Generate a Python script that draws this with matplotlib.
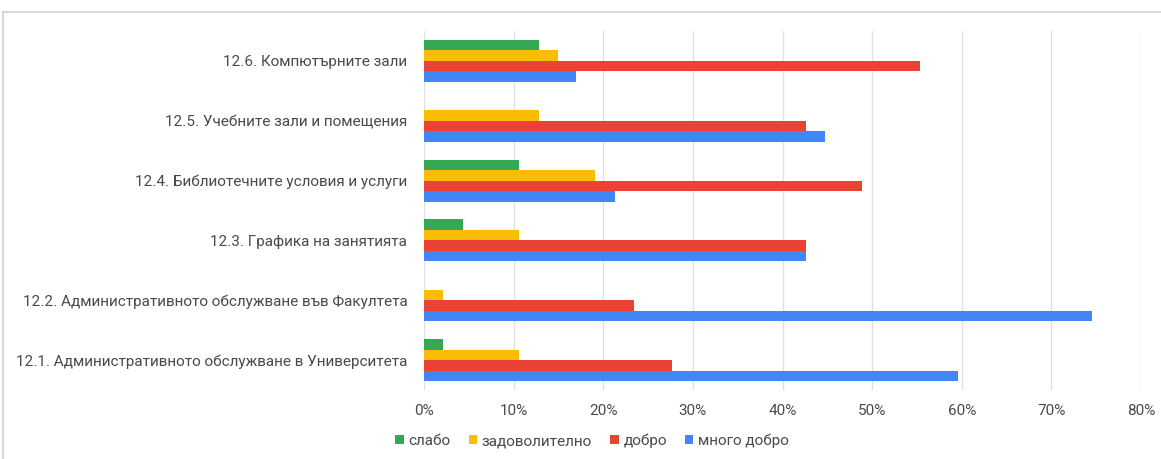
#!/usr/bin/env python3
"""
Horizontal grouped bar chart: ratings of university services
"""
import matplotlib.pyplot as plt
import numpy as np
from matplotlib.lines import Line2D
from matplotlib.ticker import FuncFormatter, MultipleLocator

plt.rcParams["font.family"] = ["Roboto", "DejaVu Sans"]

# Data (top to bottom, as shown)
categories = [
    "12.6. Компютърните зали",
    "12.5. Учебните зали и помещения",
    "12.4. Библиотечните условия и услуги",
    "12.3. Графика на занятията",
    "12.2. Административното обслужване във Факултета",
    "12.1. Административното обслужване в Университета",
]
series_names = ["слабо", "задоволително", "добро", "много добро"]
slabo = [12.8, 0.0, 10.6, 4.3, 0.0, 2.1]
zadovolitelno = [14.9, 12.8, 19.1, 10.6, 2.1, 10.6]
dobro = [55.3, 42.6, 48.9, 42.6, 23.4, 27.7]
mnogo_dobro = [17.0, 44.7, 21.3, 42.6, 74.5, 59.6]

# Style
COLORS = ["#34a853", "#fbbc04", "#ea4335", "#4285f4"]
TEXT_COLOR = "#4a4a4a"
GRID_COLOR = "#e0e0e0"
BAR_HEIGHT = 0.175

fig = plt.figure(figsize=(11.61, 4.59), dpi=100)
ax = fig.add_axes([424 / 1161, 1 - 390 / 459, (1141 - 424) / 1161, (390 - 31) / 459])

y = np.arange(len(categories))
all_series = [slabo, zadovolitelno, dobro, mnogo_dobro]
for j, (name, values, color) in enumerate(zip(series_names, all_series, COLORS)):
    offset = (j - 1.5) * BAR_HEIGHT
    ax.barh(y + offset, values, height=BAR_HEIGHT, color=color, label=name, zorder=3)

ax.set_ylim(len(categories) - 0.5, -0.5)
ax.set_xlim(0, 80)
ax.set_yticks(y)
ax.set_yticklabels(categories)
ax.xaxis.set_major_locator(MultipleLocator(10))
ax.xaxis.set_major_formatter(FuncFormatter(lambda v, _: f"{v:.0f}%"))
ax.grid(axis="x", color=GRID_COLOR, linewidth=1, zorder=0)
for spine in ax.spines.values():
    spine.set_visible(False)
ax.tick_params(axis="both", length=0, colors=TEXT_COLOR, labelsize=11)
ax.tick_params(axis="y", pad=12)
ax.tick_params(axis="x", pad=10)

ax.legend(
    loc="center",
    bbox_to_anchor=(592 / 1161, 1 - 441 / 459),
    bbox_transform=fig.transFigure,
    ncol=4,
    frameon=False,
    handlelength=0.55,
    handleheight=0.55,
    handletextpad=0.3,
    columnspacing=1.2,
    fontsize=11,
    labelcolor=TEXT_COLOR,
)

# light frame at top and left edges
fig.add_artist(Line2D([3 / 1161, 1], [1 - 12 / 459] * 2, color="#d9d9d9", linewidth=1.5))
fig.add_artist(Line2D([3 / 1161] * 2, [0, 1 - 12 / 459], color="#d9d9d9", linewidth=1.5))

plt.savefig("out.png", dpi=100)
